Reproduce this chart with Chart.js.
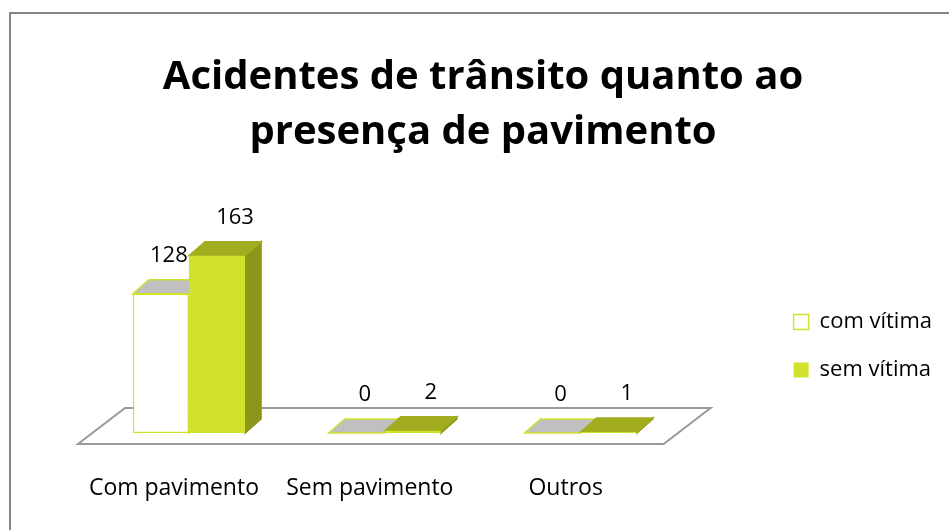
<!DOCTYPE html>
<html lang="pt">
<head>
<meta charset="utf-8">
<title>Acidentes de trânsito quanto ao presença de pavimento</title>
<script src="https://cdn.jsdelivr.net/npm/chart.js@4.4.1/dist/chart.umd.min.js"></script>
<style>
  body { margin: 0; background: #fff; }
  canvas { display: block; }
</style>
</head>
<body>
<canvas id="grafico" width="949" height="530"></canvas>
<script>
// dados
const titulo = ['Acidentes de trânsito quanto ao', 'presença de pavimento'];
const categorias = ['Com pavimento', 'Sem pavimento', 'Outros'];
const nomesSeries = ['com vítima', 'sem vítima'];
const comVitima = [128, 0, 0];
const semVitima = [163, 2, 1];

const verde = '#d2e22c';
const fonte = "'Open Sans', 'DejaVu Sans', sans-serif";

// faces laterais e de topo das barras, chao e rotulos (efeito 3D do Excel)
const efeito3d = {
  id: 'efeito3d',
  beforeDraw(chart) {
    const ctx = chart.ctx;
    ctx.save();
    ctx.strokeStyle = '#868686';
    ctx.lineWidth = 2;
    ctx.beginPath();
    ctx.moveTo(10, chart.height);
    ctx.lineTo(10, 13);
    ctx.lineTo(chart.width, 13);
    ctx.stroke();
    ctx.restore();
  },
  beforeDatasetsDraw(chart) {
    const ctx = chart.ctx, a = chart.chartArea;
    const y0 = chart.scales.y.getPixelForValue(0);
    const dx = 16, dy = 14;
    ctx.save();
    // chao
    ctx.beginPath();
    ctx.moveTo(a.left - 13, y0 + 11);
    ctx.lineTo(a.right - 15, y0 + 11);
    ctx.lineTo(a.right + 32, y0 - 25);
    ctx.lineTo(a.left + 34, y0 - 25);
    ctx.closePath();
    ctx.fillStyle = '#fff';
    ctx.fill();
    ctx.strokeStyle = '#9a9a9a';
    ctx.lineWidth = 2;
    ctx.stroke();

    const estilos = [
      { lado: '#ffffff', topo: '#c0c0c0', borda: verde },
      { lado: '#8c961a', topo: '#a2ac1f', borda: null }
    ];
    chart.data.datasets.forEach((ds, di) => {
      const st = estilos[di];
      chart.getDatasetMeta(di).data.forEach(bar => {
        const x0 = bar.x - bar.width / 2, x1 = bar.x + bar.width / 2;
        const top = bar.y, bot = bar.base;
        const faces = [
          [[x1, top], [x1 + dx, top - dy], [x1 + dx, bot - dy], [x1, bot], st.lado],
          [[x0, top], [x1, top], [x1 + dx, top - dy], [x0 + dx, top - dy], st.topo]
        ];
        faces.forEach(f => {
          ctx.beginPath();
          ctx.moveTo(f[0][0], f[0][1]);
          for (let k = 1; k < 4; k++) ctx.lineTo(f[k][0], f[k][1]);
          ctx.closePath();
          ctx.fillStyle = f[4];
          ctx.fill();
          ctx.lineWidth = 1.5;
          ctx.strokeStyle = st.borda || f[4];
          ctx.stroke();
        });
      });
    });
    ctx.restore();
  },
  afterDatasetsDraw(chart) {
    const ctx = chart.ctx;
    const desloc = [8, 18];
    ctx.save();
    ctx.font = '22px ' + fonte;
    ctx.fillStyle = '#000';
    ctx.textAlign = 'center';
    ctx.textBaseline = 'middle';
    chart.data.datasets.forEach((ds, di) => {
      chart.getDatasetMeta(di).data.forEach((bar, i) => {
        ctx.fillText(String(ds.data[i]), bar.x + desloc[di], bar.y - 38);
      });
    });
    ctx.restore();
  }
};

Chart.defaults.color = '#000';
Chart.defaults.font.family = fonte;

new Chart(document.getElementById('grafico'), {
  type: 'bar',
  data: {
    labels: categorias,
    datasets: [
      {
        label: nomesSeries[0],
        data: comVitima,
        backgroundColor: '#ffffff',
        borderColor: verde,
        borderWidth: 1.5,
        borderSkipped: false
      },
      {
        label: nomesSeries[1],
        data: semVitima,
        backgroundColor: verde,
        borderColor: verde,
        borderWidth: 0
      }
    ]
  },
  options: {
    responsive: false,
    animation: false,
    events: [],
    categoryPercentage: 0.573,
    barPercentage: 1,
    layout: { padding: { left: 24, right: 7, top: 0, bottom: 0 } },
    scales: {
      x: {
        grid: { display: false, drawTicks: false },
        border: { display: false },
        ticks: { font: { size: 23 }, color: '#000', padding: 42, labelOffset: -15 },
        afterFit(s) { s.height = 97; }
      },
      y: {
        min: 0,
        max: 250,
        grid: { display: false },
        border: { display: false },
        ticks: { display: false },
        afterFit(s) { s.width = 67; }
      },
      y2: {
        position: 'right',
        grid: { display: false },
        border: { display: false },
        ticks: { display: false },
        afterFit(s) { s.width = 89; }
      }
    },
    plugins: {
      title: {
        display: true,
        text: titulo,
        color: '#000',
        font: { size: 40, weight: 'bold', lineHeight: 1.375 },
        padding: { top: 50, bottom: 1 }
      },
      legend: {
        position: 'right',
        maxWidth: 180,
        // titulo vazio usado so para baixar os itens da legenda
        title: { display: true, text: '', font: { size: 10, lineHeight: 1.2 }, padding: { top: 150, bottom: 0 } },
        labels: {
          font: { size: 22 },
          color: '#000',
          boxWidth: 15,
          boxHeight: 15,
          padding: 26
        }
      },
      tooltip: { enabled: false }
    }
  },
  plugins: [efeito3d]
});
</script>
</body>
</html>
